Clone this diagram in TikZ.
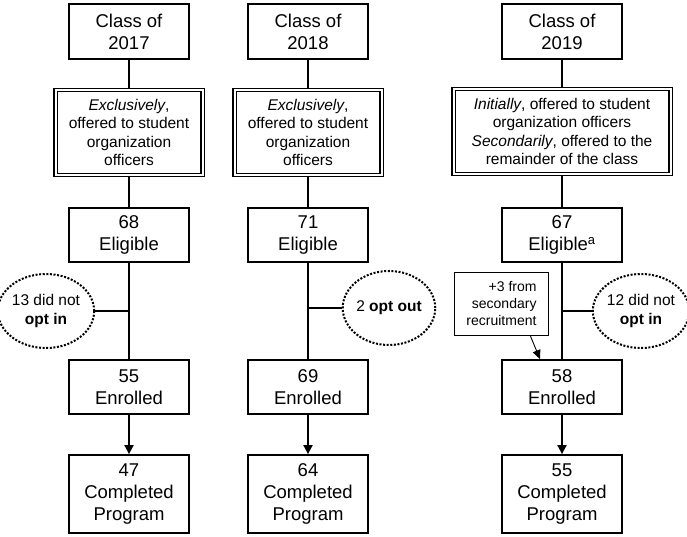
\documentclass[tikz,border=0pt]{standalone}
\usepackage{fontspec}
\setmainfont{Liberation Sans}
\usetikzlibrary{shapes.geometric,arrows.meta}

\begin{document}
\begin{tikzpicture}[x=1pt,y=-1pt,
        box/.style={draw, line width=1.8pt, inner sep=0pt, align=center, minimum width=120pt, font=\fontsize{18.5}{22}\selectfont},
        offerbox/.style={draw, double, line width=1.4pt, double distance=2pt, inner sep=0pt, align=center, minimum height=85pt, font=\fontsize{15.5}{18.3}\selectfont},
        optnode/.style={ellipse, draw, line width=2pt, dash pattern=on 2pt off 1.6pt, inner sep=0pt, align=center, minimum width=85pt, minimum height=74pt, font=\fontsize{15.5}{18.5}\selectfont},
        flow/.style={line width=1.8pt},
        arrow/.style={line width=1.8pt, -{Triangle[length=9pt,width=9pt]}},
        ]

        \useasboundingbox (0,0) rectangle (687,537);

        % Class of 2017
        \node[box, minimum height=55pt] (c17) at (129,31.5) {Class of\\2017};
        \node[offerbox, minimum width=147pt] (off17) at (129,132.5) {\textit{Exclusively},\\offered to student\\organization\\officers};
        \node[box, minimum height=54pt] (elig17) at (129,235) {68\\Eligible};
        \node[optnode] (opt17) at (46,311) {13 did not\\\textbf{opt in}};
        \node[box, minimum height=54pt] (enr17) at (129,387) {55\\Enrolled};
        \node[box, minimum height=78pt] (comp17) at (129,494) {47\\Completed\\Program};

        % Class of 2018
        \node[box, minimum height=55pt] (c18) at (308,31.5) {Class of\\2018};
        \node[offerbox, minimum width=147pt] (off18) at (308,132.5) {\textit{Exclusively},\\offered to student\\organization\\officers};
        \node[box, minimum height=54pt] (elig18) at (308,235) {71\\Eligible};
        \node[optnode] (opt18) at (389,308) {2 \textbf{opt out}};
        \node[box, minimum height=54pt] (enr18) at (308,387) {69\\Enrolled};
        \node[box, minimum height=78pt] (comp18) at (308,494) {64\\Completed\\Program};

        % Class of 2019
        \node[box, minimum height=55pt] (c19) at (562,31.5) {Class of\\2019};
        \node[offerbox, minimum width=217pt] (off19) at (562,131.5) {\textit{Initially}, offered to student\\organization officers\\\textit{Secondarily}, offered to the\\remainder of the class};
        \node[box, minimum height=54pt] (elig19) at (562,235) {67\\Eligible\textsuperscript{a}};
        \node[optnode, minimum width=87pt] (opt19) at (641,311) {12 did not\\\textbf{opt in}};
        \node[draw, line width=1.4pt, inner sep=0pt, align=right, minimum width=94pt, minimum height=63pt, font=\fontsize{14}{17}\selectfont] (sec19) at (501.5,304) {+3 from\\secondary\\recruitment};
        \node[box, minimum height=54pt] (enr19) at (562,387) {58\\Enrolled};
        \node[box, minimum height=78pt] (comp19) at (562,494) {55\\Completed\\Program};

        % Junctions
        \coordinate (j17) at (elig17.south |- opt17.east);
        \coordinate (j18) at (elig18.south |- opt18.west);
        \coordinate (j19) at (elig19.south |- opt19.west);

        % Lines
        \foreach \yr in {17,18,19} {
            \draw[flow] (c\yr) -- (off\yr);
            \draw[flow] (off\yr) -- (elig\yr);
            \draw[flow] (elig\yr) -- (enr\yr);
            \draw[arrow] (enr\yr) -- (comp\yr);
        }
        \draw[flow] (j17) -- (opt17.east);
        \draw[flow] (j18) -- (opt18.west);
        \draw[flow] (j19) -- (opt19.west);

        % Secondary recruitment
        \draw[line width=0.9pt, -{Triangle[length=9pt,width=8pt]}] (sec19.-48) -- ([xshift=-22pt]enr19.north);

    \end{tikzpicture}
\end{document}
